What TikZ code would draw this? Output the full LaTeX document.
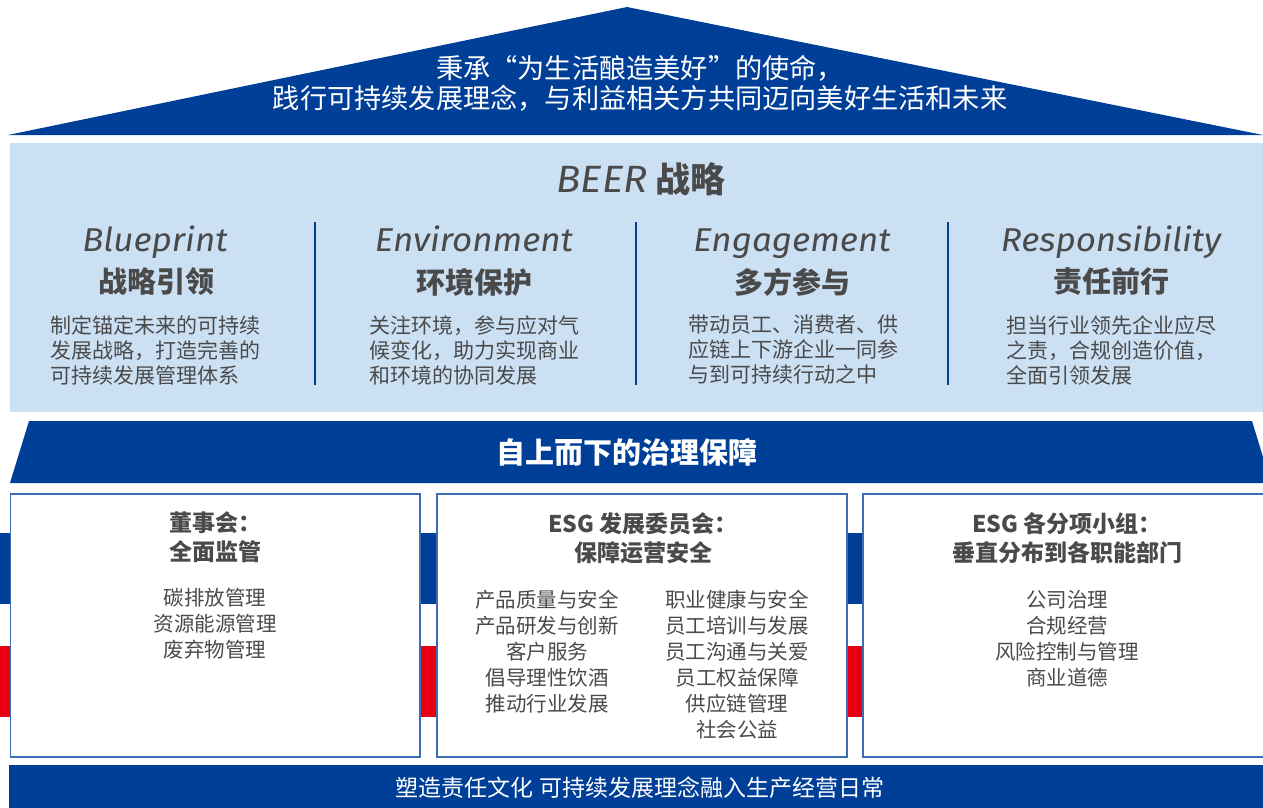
\documentclass[tikz,border=0pt]{standalone}
\usepackage{fontspec}
\setmainfont{Noto Sans CJK SC}
\newfontfamily\latit{Fira Sans}[FakeStretch=1.06]
\definecolor{dblue}{HTML}{003F98}
\definecolor{lblue}{HTML}{CCE0F4}
\definecolor{sred}{HTML}{E60012}
\definecolor{tgray}{HTML}{4A4A4A}
\definecolor{bline}{HTML}{3D6DB5}
\tikzset{
  txt/.style={inner sep=0pt, text=tgray},
  wtxt/.style={inner sep=0pt, text=white},
  engname/.style={txt, anchor=base, font=\latit\itshape\fontsize{33}{36}\selectfont},
  cnname/.style={txt, font=\bfseries\fontsize{29}{32}\selectfont},
  desc/.style={txt, align=left, font=\fontsize{21}{25}\selectfont},
  boxtitle/.style={txt, align=center, font=\bfseries\fontsize{23}{29}\selectfont},
  items/.style={txt, align=center, font=\fontsize{20.5}{26}\selectfont},
  govbox/.style={draw=bline, line width=1.5pt, fill=white},
  divider/.style={draw=dblue, line width=1.2pt}
}
\begin{document}
\begin{tikzpicture}[x=1pt,y=-1pt]
\useasboundingbox (0,0) rectangle (1263,808);
% roof
\fill[dblue] (8,135) -- (627,7) -- (1263,135) -- cycle;
\node[wtxt, align=center, font=\fontsize{27.2}{30}\selectfont] (mission) at (640,83)
  {秉承“为生活酿造美好”的使命，\\践行可持续发展理念，与利益相关方共同迈向美好生活和未来};
% BEER panel
\fill[lblue] (10,143) rectangle (1263,412);
\node[txt, anchor=base, font=\bfseries\fontsize{35}{38}\selectfont] (beer) at (641,192)
  {{\latit\mdseries\itshape\fontsize{38}{40}\selectfont BEER} 战略};
\draw[divider] (315,222) -- (315,385);
\draw[divider] (636,222) -- (636,385);
\draw[divider] (948,222) -- (948,385);
\node[engname] (b1) at (155,251) {Blueprint};
\node[cnname] (b2) at (156,282) {战略引领};
\node[desc] (b3) at (155,350) {制定锚定未来的可持续\\发展战略，打造完善的\\可持续发展管理体系};
\node[engname] (e1) at (474,251) {Environment};
\node[cnname] (e2) at (474,282) {环境保护};
\node[desc] (e3) at (474,350) {关注环境，参与应对气\\候变化，助力实现商业\\和环境的协同发展};
\node[engname] (g1) at (792,251) {Engagement};
\node[cnname] (g2) at (792,282) {多方参与};
\node[desc] (g3) at (793,350) {带动员工、消费者、供\\应链上下游企业一同参\\与到可持续行动之中};
\node[engname] (r1) at (1111,251) {Responsibility};
\node[cnname] (r2) at (1111,282) {责任前行};
\node[desc] (r3) at (1111,350) {担当行业领先企业应尽\\之责，合规创造价值，\\全面引领发展};
% governance band
\fill[dblue] (10,483) -- (29,421) -- (1252,421) -- (1263,457) -- (1263,483) -- cycle;
\node[wtxt, font=\bfseries\fontsize{29}{32}\selectfont] (gov) at (627,452) {自上而下的治理保障};
% stripes
\foreach \xa/\xb in {0/12, 418/439, 845/865}{
  \fill[dblue] (\xa,533) rectangle (\xb,604);
  \fill[sred] (\xa,646) rectangle (\xb,717);
}
% boxes
\path[govbox] (10.5,494) rectangle (420,757);
\path[govbox] (437,494) rectangle (847,757);
\path[govbox] (863,494) rectangle (1270,757);
\node[boxtitle] (t1) at (215,537) {董事会：\\全面监管};
\node[items] (i1) at (215,624) {碳排放管理\\资源能源管理\\废弃物管理};
\node[boxtitle] (t2) at (643,538) {ESG 发展委员会：\\保障运营安全};
\node[items] (i2a) at (547,652) {产品质量与安全\\产品研发与创新\\客户服务\\倡导理性饮酒\\推动行业发展};
\node[items] (i2b) at (737,665) {职业健康与安全\\员工培训与发展\\员工沟通与关爱\\员工权益保障\\供应链管理\\社会公益};
\node[boxtitle] (t3) at (1067,538) {ESG 各分项小组：\\垂直分布到各职能部门};
\node[items] (i3) at (1067,639) {公司治理\\合规经营\\风险控制与管理\\商业道德};
% bottom bar
\fill[dblue] (9,765) rectangle (1263,808);
\node[wtxt, font=\fontsize{23}{26}\selectfont] (culture) at (640,788) {塑造责任文化 可持续发展理念融入生产经营日常};
\end{tikzpicture}
\end{document}
